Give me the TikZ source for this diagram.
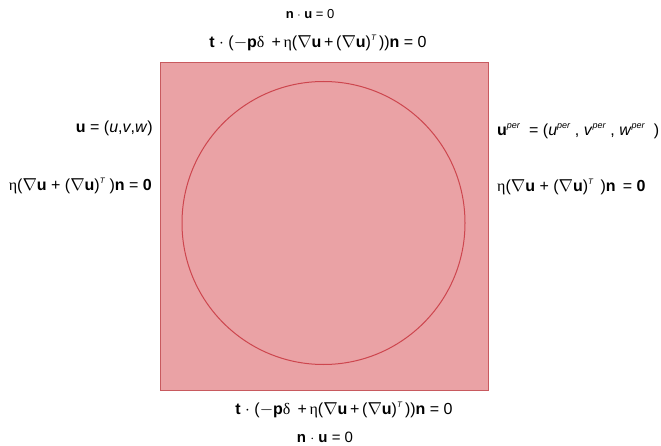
\documentclass[tikz,border=0pt]{standalone}
\usepackage{fontspec}
\setmainfont{Liberation Sans}
\newfontfamily\grk{Liberation Serif}
\definecolor{boxfill}{RGB}{234,162,165}
\definecolor{boxline}{RGB}{200,90,95}
\definecolor{circline}{RGB}{205,70,78}
\newcommand{\bv}[1]{\textbf{#1}}
\newcommand{\nablau}{$\nabla$\bv{u}}
\newcommand{\eeta}{{\grk η}}
\newcommand{\ddelta}{{\grk δ}}
\newcommand{\supT}{\raisebox{0.75ex}{\footnotesize\textit{T}}}
\newcommand{\sper}{\raisebox{0.75ex}{\small\textit{per}}}
\begin{document}
\begin{tikzpicture}[x=1pt,y=-1pt,
  lab/.style={font=\fontsize{16}{18}\selectfont, inner sep=0pt},
  labs/.style={font=\fontsize{13}{15}\selectfont, inner sep=0pt}]
\useasboundingbox (0,0) rectangle (661,446);
\node[draw=boxline, fill=boxfill, line width=0.8pt, minimum width=328pt, minimum height=328pt, inner sep=0pt] (sq) at (324,226) {};
\node[draw=circline, line width=1pt, circle, minimum size=283pt, inner sep=0pt] (c) at (323.5,223) {};
% top
\node[labs] (tn) at (310,14) {\bv{n} $\cdot$ \bv{u} = 0};
\node[lab] (tt) at (318,43) {\bv{t} $\cdot$ ($-$\bv{p}\ddelta\ \,+\,\eeta(\nablau\,+\,(\nablau)\supT\,))\bv{n} = 0};
% bottom
\node[lab] (bt) at (344,410) {\bv{t} $\cdot$ ($-$\bv{p}\ddelta\ \,+\,\eeta(\nablau\,+\,(\nablau)\supT\,))\bv{n} = 0};
\node[labs, font=\fontsize{15}{17}\selectfont] (bn) at (325,437) {\bv{n} $\cdot$ \bv{u} = 0};
% left
\node[lab, anchor=east] (lu) at (153,128) {\bv{u} = (\textit{u},\textit{v},\textit{w})};
\node[lab, anchor=east] (le) at (152,186) {\eeta(\nablau\ +\ (\nablau)\supT\ )\bv{n} = \textbf{0}};
% right
\node[lab, anchor=west] (ru) at (497,131) {\bv{u}\sper\ \ = (\textit{u}\sper\ , \textit{v}\sper\ , \textit{w}\sper\ \ )};
\node[lab, anchor=west] (re) at (497,187) {\eeta(\nablau\ +\ (\nablau)\supT\ \,)\bv{n} \,= \textbf{0}};
\end{tikzpicture}
\end{document}
